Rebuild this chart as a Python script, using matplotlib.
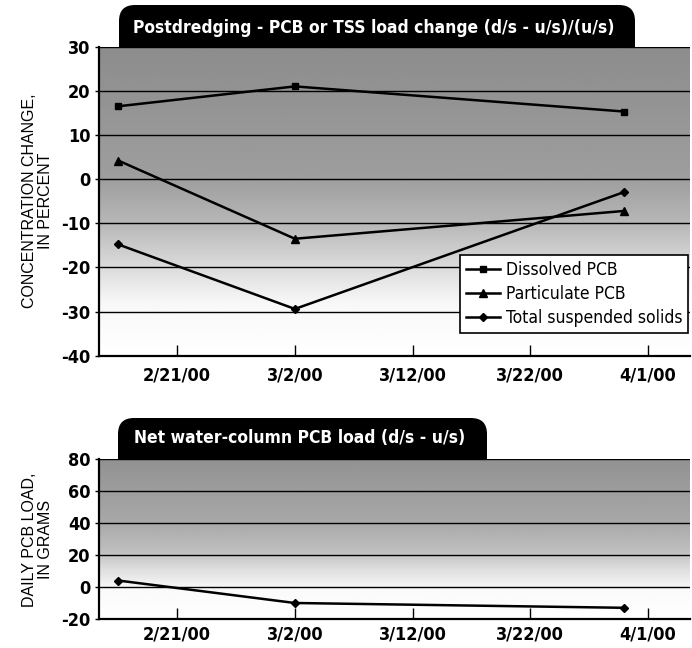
import numpy as np
import pandas as pd
import matplotlib
matplotlib.use("Agg")
import matplotlib.pyplot as plt
import matplotlib.dates as mdates
from matplotlib.patches import FancyBboxPatch, Rectangle

# sampling dates and values
dates = pd.to_datetime(["2000-02-16", "2000-03-02", "2000-03-30"])
dissolved_pcb = [16.5, 21.0, 15.3]
particulate_pcb = [4.2, -13.5, -7.2]
total_solids = [-14.8, -29.4, -2.9]
net_load = [4.0, -10.0, -13.0]

tick_dates = pd.to_datetime(["2000-02-21", "2000-03-02", "2000-03-12",
                             "2000-03-22", "2000-04-01"])
tick_labels = ["2/21/00", "3/2/00", "3/12/00", "3/22/00", "4/1/00"]

plt.rcParams["font.family"] = ["DejaVu Sans"]
plt.rcParams["font.stretch"] = "condensed"
plt.rcParams["axes.unicode_minus"] = False

fig = plt.figure(figsize=(6.92, 6.48), dpi=100)
ax1 = fig.add_axes([0.143, 0.451, 0.854, 0.477])
ax2 = fig.add_axes([0.143, 0.0447, 0.854, 0.2475])

x0 = mdates.date2num(pd.Timestamp("2000-02-14 08:30"))
x1 = mdates.date2num(pd.Timestamp("2000-04-04 13:30"))


def shade(ax, ymin, ymax, stops, greys):
    # stippled grey background, darker toward the top
    yy = np.linspace(ymax, ymin, 200)
    g = np.interp(yy, stops, greys)
    ax.imshow(np.tile(g[:, None], (1, 2)), cmap="gray", vmin=0, vmax=1,
              extent=(x0, x1, ymin, ymax), aspect="auto", zorder=0,
              interpolation="bilinear")


def style(ax, ymin, ymax, step, pad):
    ax.set_xlim(x0, x1)
    ax.set_ylim(ymin, ymax)
    ax.set_yticks(np.arange(ymin, ymax + 1, step))
    ax.set_xticks(mdates.date2num(tick_dates))
    ax.set_xticklabels(tick_labels)
    for lab in ax.get_xticklabels() + ax.get_yticklabels():
        lab.set_fontweight("bold")
        lab.set_fontsize(13)
    ax.tick_params(axis="x", direction="in", length=8, width=1, pad=pad)
    ax.tick_params(axis="y", direction="out", length=3, width=1, pad=3)
    ax.grid(axis="y", color="black", lw=1)
    ax.set_axisbelow(False)
    for s in ["top", "right"]:
        ax.spines[s].set_visible(False)
    for s in ["left", "bottom"]:
        ax.spines[s].set_linewidth(1.6)


shade(ax1, -40, 30, [-40, -28, -20, -10, 0, 30], [1.0, 0.97, 0.86, 0.72, 0.62, 0.55])
ax1.plot(dates, dissolved_pcb, color="black", lw=1.8, marker="s", ms=5,
         label="Dissolved PCB", zorder=3)
ax1.plot(dates, particulate_pcb, color="black", lw=1.8, marker="^", ms=6,
         label="Particulate PCB", zorder=3)
ax1.plot(dates, total_solids, color="black", lw=1.8, marker="D", ms=4,
         label="Total suspended solids", zorder=3)
style(ax1, -40, 30, 10, 8)
leg = ax1.legend(loc="lower right", bbox_to_anchor=(0.997, 0.074),
                 borderaxespad=0, fancybox=False, framealpha=1,
                 edgecolor="black", fontsize=12.5, handlelength=2.0,
                 handletextpad=0.3, labelspacing=0.35, borderpad=0.35)
leg.get_frame().set_linewidth(1.2)
leg.set_zorder(5)

shade(ax2, -20, 80, [-20, -2, 10, 22, 40, 80], [1.0, 0.98, 0.88, 0.75, 0.66, 0.57])
ax2.plot(dates, net_load, color="black", lw=1.8, marker="D", ms=4, zorder=3)
style(ax2, -20, 80, 20, 5)

# black tab titles
tr = fig.dpi_scale_trans
for (bx, by, bw, bh, tx, ty, txt) in [
        (1.19, 6.01, 5.16, 0.42, 3.74, 6.20,
         "Postdredging - PCB or TSS load change (d/s - u/s)/(u/s)"),
        (1.18, 1.89, 3.69, 0.41, 3.00, 2.10,
         "Net water-column PCB load (d/s - u/s)")]:
    fig.patches.append(FancyBboxPatch((bx, by), bw, bh, transform=tr,
                                      boxstyle="round,pad=0,rounding_size=0.16",
                                      facecolor="black", edgecolor="none"))
    fig.patches.append(Rectangle((bx, by), bw, bh / 2, transform=tr,
                                 facecolor="black", edgecolor="none"))
    fig.text(tx, ty, txt, transform=tr, color="white", fontsize=12.5,
             ha="center", va="center", fontweight="bold")

ylab = dict(rotation=90, ha="center", va="center", fontsize=11.5,
            linespacing=1.05, family=["Liberation Sans", "DejaVu Sans"],
            fontstretch="normal")
fig.text(0.054, 0.69, "CONCENTRATION CHANGE,\nIN PERCENT", **ylab)
fig.text(0.054, 0.167, "DAILY PCB LOAD,\nIN GRAMS", **ylab)

fig.savefig("out.png", dpi=100)
